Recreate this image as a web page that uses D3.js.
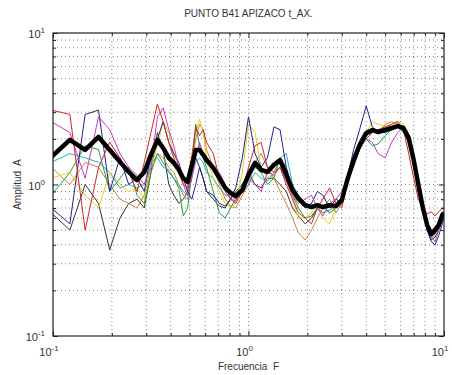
<!DOCTYPE html>
<html><head><meta charset="utf-8">
<script src="https://cdn.jsdelivr.net/npm/d3@7"></script>
<style>
body{margin:0;background:#fff;}
text{font-family:"Liberation Sans",Arial,sans-serif;fill:#333;white-space:pre;}
</style></head>
<body><svg id="c" width="452" height="375"></svg>
<script>
const title = "PUNTO B41 APIZACO t_AX.";
const xLabel = "Frecuencia  F";
const yLabel = "Amplitud  A";
const majorTicks = [0.1, 1, 10];
const majorExp = ["-1", "0", "1"];
const freq = [0.098,0.122,0.146,0.171,0.195,0.22,0.244,0.269,0.293,0.317,0.342,0.366,0.391,0.415,0.44,0.464,0.488,0.513,0.537,0.562,0.586,0.61,
 0.66,0.71,0.76,0.81,0.86,0.93,1.0,1.08,1.16,1.25,1.35,1.45,1.56,1.68,1.8,1.95,2.1,2.25,2.4,2.6,2.8,3.0,3.2,3.45,3.7,4.0,4.3,4.6,
 5.0,5.4,5.8,6.2,6.6,7.0,7.4,7.8,8.2,8.6,9.0,9.4,9.8,10.0];
const meanAmp = [1.52,1.97,1.69,2.06,1.69,1.41,1.21,1.07,1.21,1.57,1.97,1.74,1.50,1.39,1.25,1.10,1.04,1.35,1.69,1.69,1.57,1.45,
 1.29,1.10,0.95,0.88,0.84,0.92,1.16,1.39,1.25,1.21,1.35,1.45,1.16,0.92,0.81,0.73,0.71,0.73,0.71,0.73,0.72,0.79,1.07,1.45,1.82,2.19,2.29,2.22,
 2.29,2.36,2.43,2.36,2.03,1.45,0.99,0.70,0.54,0.47,0.50,0.54,0.63,0.65];
const serRed = [3.1,2.9,0.5,1.3,1.9,1.5,1.2,0.9,1.4,2.2,3.4,2.6,1.9,1.5,1.2,1.0,0.95,1.5,2.4,2.1,2.3,1.9,
 1.6,1.1,0.9,0.8,0.75,0.9,1.3,1.8,1.9,1.3,1.2,1.3,1.0,0.8,0.65,0.6,0.55,0.7,0.8,0.95,0.75,0.7,1.0,1.5,1.9,2.0,2.2,2.3,
 2.4,2.5,2.6,2.3,1.6,1.1,0.8,0.68,0.64,0.66,0.62,0.66,0.7,0.7];
const serMagenta = [2.6,2.2,1.1,2.8,2.3,1.6,1.3,1.15,1.0,1.3,2.8,3.2,2.3,1.8,1.3,1.0,0.85,1.1,1.5,1.9,1.6,1.4,
 1.3,1.2,1.0,0.8,0.78,0.95,1.1,1.0,0.9,1.2,1.15,1.3,1.05,0.85,0.75,0.8,0.85,0.7,0.62,0.75,0.8,0.9,1.1,1.5,1.8,2.0,1.9,1.6,
 1.5,1.9,2.2,2.4,2.0,1.5,1.0,0.72,0.52,0.45,0.42,0.5,0.58,0.6];
const serNavy = [0.7,0.55,2.9,3.1,0.9,1.5,1.0,1.1,0.9,1.6,2.0,2.6,1.9,1.6,1.4,1.1,0.9,0.8,1.0,1.3,1.1,0.9,
 0.85,0.75,0.72,0.8,0.95,1.5,2.8,1.6,1.3,1.5,2.4,2.3,1.3,0.95,0.8,0.7,0.75,0.9,0.85,0.7,0.8,0.75,1.1,1.7,2.3,3.3,2.4,2.2,
 2.3,2.3,2.5,2.3,1.9,1.4,0.95,0.66,0.5,0.42,0.4,0.46,0.55,0.6];
const serGreen = [0.85,1.2,1.8,1.7,0.9,1.1,1.3,0.85,0.75,1.2,1.6,1.4,1.2,1.1,0.95,0.62,0.7,1.2,2.5,1.8,1.5,1.3,
 0.9,0.65,0.6,0.7,0.8,0.95,1.1,1.3,1.2,1.0,1.1,1.5,1.3,0.85,0.7,0.6,0.62,0.7,0.65,0.68,0.72,0.75,1.05,1.3,1.7,2.0,1.8,1.85,
 2.1,2.3,2.4,2.2,1.9,1.4,1.0,0.68,0.5,0.44,0.47,0.52,0.6,0.62];
const serYellow = [1.1,1.2,0.85,0.7,1.2,1.0,0.9,0.95,0.8,1.3,1.8,2.6,2.2,1.6,1.3,1.1,1.0,1.6,2.2,2.7,2.2,1.5,
 1.1,0.9,0.75,0.7,0.75,1.2,2.5,2.2,1.3,1.1,1.2,1.4,1.1,0.8,0.6,0.6,0.65,0.75,0.6,0.55,0.7,0.85,1.1,1.4,1.9,2.2,2.6,2.5,
 2.4,2.5,2.6,2.5,2.1,1.5,1.0,0.7,0.54,0.46,0.48,0.54,0.62,0.64];
const serCyan = [1.4,1.6,1.5,1.4,1.2,0.95,1.0,0.95,1.0,1.4,1.5,1.3,1.25,1.1,1.0,0.9,0.85,1.1,1.4,1.5,1.4,1.2,
 1.1,0.95,0.85,0.85,0.8,0.9,1.0,1.2,1.1,1.05,1.2,1.5,1.6,1.0,0.85,0.7,0.75,0.68,0.72,0.65,0.7,0.8,1.1,1.4,1.8,2.1,2.2,2.3,
 2.2,2.3,2.4,2.3,2.0,1.5,1.0,0.72,0.56,0.5,0.48,0.52,0.6,0.63];
const serGray = [0.65,0.5,1.0,0.75,0.37,0.6,0.75,0.8,0.7,1.2,2.2,1.7,1.0,0.85,0.75,0.8,0.9,1.2,1.5,1.3,1.1,0.9,
 0.8,0.72,0.7,0.8,0.9,1.0,1.2,1.0,0.95,1.1,1.1,1.0,0.9,0.7,0.62,0.55,0.6,0.7,0.72,0.65,0.7,0.78,1.0,1.4,1.7,2.1,2.2,2.3,
 2.2,2.3,2.4,2.4,2.0,1.4,0.95,0.66,0.5,0.43,0.45,0.5,0.58,0.62];
const serOrange = [1.3,1.0,1.4,1.3,1.0,0.8,0.75,0.7,0.85,1.3,1.6,1.5,1.3,1.2,1.0,0.85,0.8,1.3,2.0,2.5,2.3,1.7,
 1.3,1.0,0.8,0.72,0.7,0.85,1.0,1.4,1.6,1.3,1.1,0.9,0.75,0.6,0.48,0.43,0.5,0.6,0.7,0.8,0.65,0.75,1.0,1.4,1.8,2.1,2.3,2.2,
 2.5,2.6,2.5,2.4,2.1,1.5,1.0,0.7,0.55,0.5,0.52,0.56,0.62,0.66];
const seriesList = [serGray, serOrange, serCyan, serYellow, serGreen, serNavy, serMagenta, serRed];
const seriesColors = ["#333333","#c8843c","#2ab0c0","#e4d21a","#22a040","#22228a","#c838c0","#d42424"];

const svg = d3.select("#c");
const L=53,R=444,T=33,B=336;
const x = d3.scaleLog().domain([0.1,10]).range([L,R]);
const y = d3.scaleLog().domain([0.1,10]).range([B,T]);
const minor = [];
[0.1,1].forEach(d=>{for(let k=2;k<=9;k++) minor.push(d*k);});
const gridVals = minor.concat([1]);

const defs = svg.append("defs");
defs.append("clipPath").attr("id","clip").append("rect").attr("x",L).attr("y",T).attr("width",R-L).attr("height",B-T);

const grid = svg.append("g").attr("stroke","#666").attr("stroke-width",0.8).attr("stroke-dasharray","1,3");
grid.selectAll(".gx").data(gridVals).join("line").attr("x1",d=>x(d)).attr("x2",d=>x(d)).attr("y1",T).attr("y2",B);
grid.selectAll(".gy").data(gridVals).join("line").attr("class","gy").attr("y1",d=>y(d)).attr("y2",d=>y(d)).attr("x1",L).attr("x2",R);

const plot = svg.append("g").attr("clip-path","url(#clip)");
const line = d3.line().x((d,i)=>x(freq[i])).y(d=>y(d));
seriesList.forEach((s,i)=>{
  plot.append("path").datum(s).attr("d",line).attr("fill","none").attr("stroke",seriesColors[i]).attr("stroke-width",1).attr("stroke-linejoin","round");
});
plot.append("path").datum(meanAmp).attr("d",line).attr("fill","none").attr("stroke","#000").attr("stroke-width",4.5).attr("stroke-linejoin","round");

function tickAxes(axisFn, scale, transform){
  const gMaj = svg.append("g").attr("transform",transform).call(axisFn(scale).tickValues(majorTicks).tickSize(-5).tickFormat(""));
  const gMin = svg.append("g").attr("transform",transform).call(axisFn(scale).tickValues(minor).tickSize(-3).tickFormat(""));
  [gMaj,gMin].forEach(g=>{g.select(".domain").remove(); g.selectAll("line").attr("stroke","#222");});
}
tickAxes(d3.axisBottom, x, `translate(0,${B})`);
tickAxes(d3.axisTop, x, `translate(0,${T})`);
tickAxes(d3.axisLeft, y, `translate(${L},0)`);
tickAxes(d3.axisRight, y, `translate(${R},0)`);

svg.append("rect").attr("x",L).attr("y",T).attr("width",R-L).attr("height",B-T).attr("fill","none").attr("stroke","#222").attr("stroke-width",1.2);

function powLabel(g, px, py, exp, anchor){
  const t = g.append("text").attr("x",px).attr("y",py).attr("text-anchor",anchor).attr("font-size",11);
  t.append("tspan").text("10");
  t.append("tspan").attr("dy",-5).attr("font-size",8).text(exp);
}
const lab = svg.append("g");
majorTicks.forEach((v,i)=>powLabel(lab, x(v)-4, 356, majorExp[i], "middle"));
majorTicks.forEach((v,i)=>powLabel(lab, 45, y(v)+5, majorExp[i], "end"));

svg.append("text").attr("x",(L+R)/2).attr("y",17).attr("text-anchor","middle").attr("font-size",10).text(title);
svg.append("text").attr("x",(L+R)/2).attr("y",370).attr("text-anchor","middle").attr("font-size",10).text(xLabel);
svg.append("text").attr("transform",`translate(21,${(T+B)/2}) rotate(-90)`).attr("text-anchor","middle").attr("font-size",10).text(yLabel);
</script></body></html>
